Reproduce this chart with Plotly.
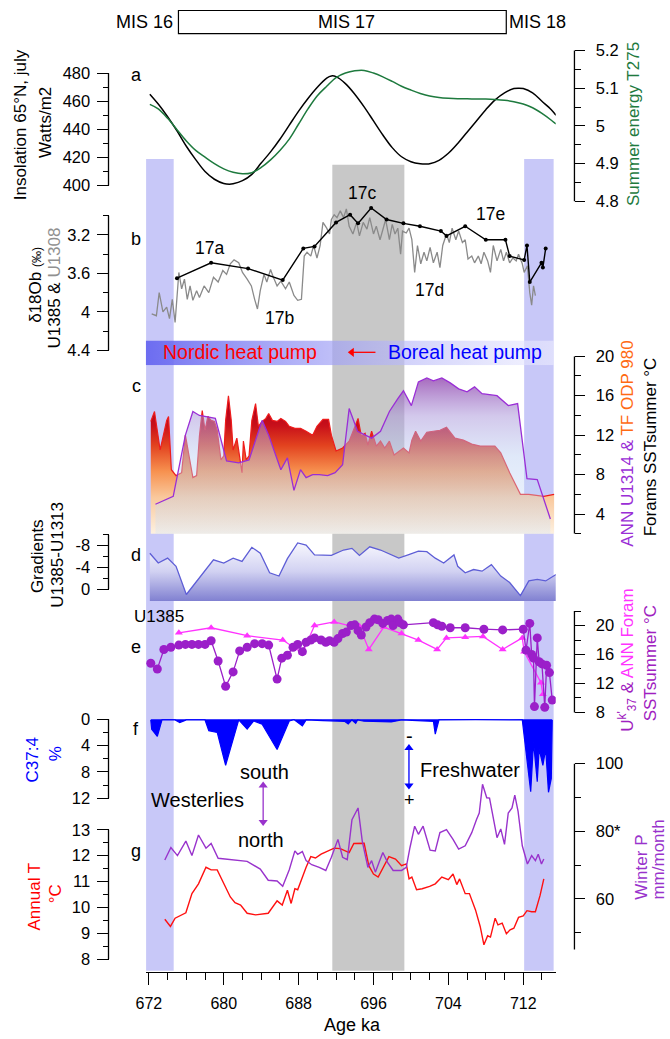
import plotly.graph_objects as go

# ---------------- data ----------------
# a) July insolation 65N (W/m2) and summer energy T275
INSOL_KA = [672.1, 673, 674, 675, 676, 677, 678, 679, 680, 680.6, 681, 682, 683, 684, 685, 686, 687, 688, 689, 690,
            691, 691.5, 692, 693, 694, 695, 696, 697, 698, 699, 700, 701, 701.7, 702, 703, 704, 705, 706, 707, 708,
            709, 710, 711, 711.5, 712, 713, 714, 715, 715.5]
INSOL = [465, 458, 449, 439, 428, 418.5, 410, 404.5, 401.5, 401, 401.3, 403.5, 408, 416, 424, 433, 443, 453, 462, 470,
         476.5, 478, 477.5, 472.5, 465, 456, 446, 436, 427, 420.5, 417, 415.5, 415.3, 415.5, 418, 423, 430, 438, 446, 454,
         461, 466, 469, 469.3, 469, 466, 460, 454, 450]
T275_KA = [672.1, 673, 674, 675, 676, 677, 678, 679, 680, 681, 682, 683, 684, 685, 686, 687, 688, 689, 690, 691,
           692, 693, 694, 695, 696, 697, 698, 699, 700, 701, 702, 703, 704, 705, 706, 707, 708, 709, 710, 711,
           712, 713, 714, 715, 715.5]
T275 = [5.057, 5.045, 5.02, 4.99, 4.96, 4.935, 4.917, 4.90, 4.886, 4.877, 4.873, 4.876, 4.89, 4.91, 4.935, 4.965, 5.005,
        5.045, 5.08, 5.105, 5.128, 5.14, 5.146, 5.147, 5.14, 5.13, 5.118, 5.105, 5.095, 5.086, 5.079, 5.075, 5.073, 5.072,
        5.072, 5.071, 5.071, 5.07, 5.068, 5.064, 5.058, 5.048, 5.033, 5.015, 5.005]

# b) d18O benthic U1385 (black, dots) and U1308 (grey)
U1385_KA = [675.0, 678.65, 682.6, 686.3, 688.5, 689.7, 692.0, 693.5, 694.35, 695.75, 697.4, 699.2, 700.96, 703.2,
            703.8, 705.8, 708.0, 710.1, 710.55, 712.1, 712.4, 712.7, 713.95, 714.1, 714.4]
U1385_D18O = [3.65, 3.49, 3.55, 3.67, 3.34, 3.32, 3.07, 2.99, 3.08, 2.92, 3.04, 3.08, 3.11, 3.16, 3.21, 3.11, 3.25,
              3.25, 3.42, 3.46, 3.31, 3.69, 3.49, 3.54, 3.34]
U1308_KA = [672.3, 672.8, 673.1, 673.5, 673.9, 674.2, 674.5, 674.8, 675.2, 675.5, 675.8, 676.1, 676.4, 676.7, 677.1,
            677.4, 677.9, 678.4, 678.9, 679.4, 679.9, 680.3, 680.7, 681.1, 681.6, 682.0, 682.5, 682.95, 683.3, 683.6,
            683.9, 684.3, 684.6, 685.0, 685.3, 685.7, 686.1, 686.6, 687.0, 687.5, 687.9, 688.3, 688.6, 688.9, 689.3,
            689.6, 689.96, 690.3, 690.6, 691.0, 691.3, 691.5, 691.8, 692.1, 692.45, 692.8, 693.1, 693.4, 693.8, 694.2,
            694.5, 694.9, 695.3, 695.6, 696.0, 696.3, 696.7, 697.0, 697.3, 697.7, 698.0, 698.3, 698.6, 698.9, 699.1,
            699.5, 699.8, 700.1, 700.4, 700.7, 701.05, 701.4, 701.7, 702.05, 702.4, 702.8, 703.1, 703.4, 703.8, 704.1,
            704.4, 704.8, 705.1, 705.5, 705.8, 706.1, 706.5, 706.8, 707.2, 707.5, 707.8, 708.2, 708.5, 708.8, 709.2,
            709.6, 709.9, 710.2, 710.55, 710.9, 711.25, 711.5, 711.9, 712.1, 712.45, 712.7, 712.9, 713.1, 713.3]
U1308_D18O = [4.02, 4.04, 3.80, 4.00, 3.95, 4.07, 3.87, 4.11, 3.59, 3.76, 3.66, 3.87, 3.73, 3.88, 3.78,
              3.85, 3.73, 3.80, 3.64, 3.69, 3.57, 3.61, 3.50, 3.46, 3.49, 3.59, 3.66, 3.73, 3.87, 3.97,
              3.78, 3.61, 3.69, 3.56, 3.64, 3.73, 3.68, 3.76, 3.69, 3.83, 3.88, 3.87, 3.42, 3.38, 3.42,
              3.31, 3.44, 3.31, 3.07, 3.13, 3.19, 3.04, 2.99, 3.02, 2.95, 3.02, 2.93, 3.11, 3.19, 3.07,
              3.21, 3.07, 3.14, 3.02, 3.19, 3.11, 3.25, 3.13, 3.04, 3.25, 3.09, 3.19, 3.13, 3.40, 3.16,
              3.18, 3.13, 3.25, 3.59, 3.31, 3.50, 3.38, 3.47, 3.33, 3.49, 3.38, 3.54, 3.31, 3.19, 3.28,
              3.13, 3.25, 3.16, 3.28, 3.25, 3.45, 3.42, 3.49, 3.42, 3.50, 3.38, 3.47, 3.59, 3.31, 3.47,
              3.35, 3.47, 3.38, 3.49, 3.44, 3.47, 3.40, 3.50, 3.59, 3.52, 3.80, 3.93, 3.73, 3.83]

# c) Forams SST summer: TF ODP 980 (red) and ANN U1314 (purple)
TF980_KA = [672.2, 672.6, 673.2, 673.9, 674.1, 674.4, 674.9, 675.5, 675.9, 676.3,
            676.7, 677.1, 677.4, 677.7, 678.0, 678.3, 678.65, 679.0, 679.3, 679.7,
            680.0, 680.2, 680.5, 680.8, 681.0, 681.4, 681.6, 681.8, 681.95, 682.1,
            682.4, 682.7, 683.0, 683.4, 683.7, 684.1, 684.5, 684.8, 685.2, 685.7,
            686.1, 686.6, 687.0, 687.6, 688.2, 688.8, 689.5, 689.96, 690.6, 691.2,
            691.5, 692.0, 692.7, 693.4, 694.0, 694.35, 694.7, 695.1, 695.4, 695.8,
            696.3, 696.75, 697.2, 697.7, 698.2, 698.7, 699.2, 699.8, 700.1, 700.5,
            701.05, 701.7, 702.4, 703.1, 703.8, 704.7, 705.6, 706.5, 707.4, 708.1,
            708.97, 709.6, 710.55, 711.7, 712.6, 714.2, 715.3]
TF980_SST = [13.4, 14.4, 10.5, 13.5, 13.9, 8.5, 7.9, 8.2, 12.0, 9.9,
             7.7, 7.9, 11.9, 14.5, 12.5, 13.9, 13.5, 13.4, 12.5, 9.5,
             9.9, 13.5, 16.0, 13.5, 10.5, 11.7, 10.4, 9.2, 8.2, 11.4,
             9.5, 9.9, 13.5, 15.2, 12.9, 13.4, 13.7, 14.2, 13.5, 13.4,
             13.7, 13.4, 12.9, 12.7, 12.7, 12.4, 12.0, 12.9, 13.6, 13.6,
             12.0, 10.4, 10.7, 11.4, 12.9, 13.7, 11.9, 12.2, 11.0, 12.4,
             10.9, 11.4, 10.7, 11.4, 10.0, 10.4, 10.7, 10.2, 11.5, 12.4,
             11.4, 12.3, 12.4, 12.5, 12.8, 11.7, 11.5, 11.1, 10.9, 10.9,
             10.9, 10.2, 8.2, 6.0, 6.0, 5.8, 6.0]
U1314_KA = [672.7, 674.6, 675.9, 676.7, 677.4, 678.4, 679.1, 680.3, 681.6, 682.7,
            684.1, 684.8, 686.1, 686.8, 687.5, 688.2, 688.8, 689.5, 690.2, 691.1,
            691.9, 692.7, 693.4, 694.3, 695.8, 696.75, 697.7, 698.6, 699.2, 700.05,
            700.8, 701.7, 702.4, 703.3, 704.2, 705.1, 706.0, 706.8, 707.6, 709.2,
            710.4, 711.4, 712.4, 713.5, 714.9]
U1314_SST = [5.0, 5.8, 12.0, 14.4, 14.0, 13.8, 13.7, 9.4, 9.2, 9.5,
             13.5, 12.0, 8.5, 9.7, 6.4, 8.5, 7.7, 8.0, 8.0, 7.9,
             8.2, 9.0, 14.7, 12.4, 11.7, 12.4, 14.4, 15.7, 16.5, 15.0,
             17.4, 17.8, 17.5, 17.8, 17.3, 16.7, 16.4, 16.9, 16.2, 16.0,
             15.0, 15.2, 7.6, 7.5, 3.5]

# d) Gradients U1385-U1313
GRAD_KA = [672.1, 673.0, 674.0, 674.9, 676.0, 677.5, 678.9, 680.0, 681.0, 681.95,
           683.0, 683.9, 684.9, 685.9, 686.8, 687.9, 688.8, 689.7, 691.5, 692.8,
           693.7, 694.5, 695.6, 696.75, 697.7, 698.7, 699.7, 700.8, 701.7, 702.6,
           703.5, 704.6, 705.0, 705.8, 706.7, 707.6, 708.6, 709.6, 710.55, 711.7,
           712.6, 713.5, 714.4, 715.5]
GRAD = [-6.6, -4.8, -5.7, -4.2, 1.0, -2.4, -5.4, -4.8, -5.7, -5.1,
        -7.7, -6.6, -3.0, -2.4, -5.6, -8.5, -8.1, -6.3, -6.2, -7.2,
        -7.5, -6.2, -7.8, -7.2, -6.4, -5.7, -6.3, -7.0, -6.9, -5.7,
        -4.8, -6.3, -4.2, -3.0, -3.6, -3.3, -4.5, -2.4, -1.2, 1.2,
        -1.5, -1.8, -1.5, -2.7]
GRAD_BASE = 2.18   # lower edge of the shaded area

# e) U1385 SST summer: Uk'37 (purple dots) and ANN Foram (magenta triangles)
UK37_KA = [672.2, 672.9, 673.6, 674.35, 675.2, 675.9, 676.6, 677.3, 678.0, 678.65, 679.4, 680.2, 681.0, 681.7,
           682.5, 683.3, 684.1, 684.8, 685.7, 686.2, 686.8, 687.4, 687.9, 688.4, 688.8, 689.3, 689.7, 690.4,
           690.9, 691.3, 691.8, 692.2, 692.7, 693.1, 693.6, 694.0, 694.35, 694.7, 695.2, 695.6, 696.1, 696.5,
           697.0, 697.5, 697.9, 698.1, 698.6, 698.8, 699.2, 702.4, 702.85, 703.3, 704.2, 705.8, 707.8, 709.8,
           712.0, 712.3, 712.7, 712.9, 713.1, 713.2, 713.5, 713.7, 714.0, 714.3, 714.5, 714.8, 715.1]
UK37_SST = [14.8, 14.0, 16.7, 17.0, 17.3, 17.4, 17.4, 17.4, 17.4, 17.9, 15.1, 11.6, 13.6, 16.5,
            17.0, 17.5, 17.5, 17.3, 12.6, 15.5, 15.9, 17.0, 17.4, 16.4, 17.7, 18.0, 18.3, 18.0,
            17.7, 17.9, 17.7, 18.2, 18.9, 19.1, 20.0, 20.1, 19.3, 18.7, 19.8, 20.4, 20.9, 20.8,
            20.3, 20.7, 20.9, 20.0, 20.9, 20.4, 20.1, 20.4, 20.1, 19.9, 19.7, 19.7, 19.5, 19.4,
            19.5, 16.6, 20.3, 16.0, 15.5, 8.8, 18.3, 15.0, 14.7, 8.7, 14.5, 13.5, 9.7]
FORAM_KA = [675.2, 678.65, 682.5, 686.3, 688.4, 689.7, 691.8, 693.7, 694.5, 695.5, 697.1,
            699.0, 700.8, 702.8, 703.8, 705.8, 707.7, 709.8, 711.9, 712.1, 713.9, 714.1]
FORAM_SST = [19.0, 19.7, 18.6, 18.0, 16.2, 20.0, 20.5, 19.9, 19.9, 16.7, 19.8,
             18.9, 18.0, 16.7, 18.3, 18.4, 18.5, 16.7, 18.3, 16.4, 12.1, 10.5]

# f) C37:4 %
C374_KA = [672.2, 672.3, 672.9, 673.4, 674.8, 675.3, 676.0, 678.0, 678.4, 679.3, 680.2, 681.6, 682.5, 683.2,
           684.1, 685.7, 687.0, 687.5, 688.4, 688.8, 690.6, 692.9, 693.3, 693.7, 694.1, 694.3, 695.0, 696.5,
           697.9, 699.0, 702.4, 702.6, 703.0, 706.9, 711.9, 712.8, 713.1, 713.5, 713.7, 714.1, 714.4, 714.7,
           715.0, 715.1]
C374 = [0.1, 1.5, 2.6, 0.1, 0.1, 0.5, 0.1, 0.1, 1.75, 2.0, 7.0, 0.1, 1.5, 0.25,
        0.75, 4.6, 0.25, 0.05, 1.0, 0.1, 0.2, 0.3, 0.7, 0.1, 0.6, 0.1, 0.3, 0.35,
        0.4, 0.1, 0.3, 2.25, 0.1, 0.05, 0.1, 11.0, 3.5, 9.5, 4.5, 7.0, 4.5, 11.1,
        9.0, 0.1]

# g) Annual T (red) and Winter P (purple)
ANNT_KA = [673.7, 674.3, 674.8, 675.95, 676.6, 677.3, 678.1, 678.65, 679.3, 680.0, 680.7,
           681.2, 681.8, 682.5, 683.4, 684.75, 685.7, 686.25, 686.8, 687.2, 687.6,
           687.9, 688.4, 688.8, 689.3, 689.8, 690.4, 691.1, 691.8, 692.45, 693.4,
           693.9, 695.0, 695.5, 696.0, 696.5, 697.0, 697.65, 698.35, 699.0, 699.5,
           699.8, 700.1, 700.6, 701.2, 702.0, 702.6, 703.3, 704.0, 704.5, 704.9,
           705.2, 705.8, 706.25, 706.9, 707.4, 707.8, 708.2, 708.5, 709.0, 709.3,
           709.75, 710.2, 710.6, 711.0, 711.5, 712.0, 712.4, 712.9, 713.3, 713.8, 714.2]
ANNT = [9.54, 9.26, 9.58, 9.79, 10.53, 10.91, 11.55, 11.45, 11.45, 10.9, 10.4,
        10.18, 10.09, 9.77, 9.71, 9.77, 10.25, 10.09, 10.66, 10.15, 10.72,
        10.68, 11.17, 11.55, 11.96, 11.91, 12.06, 12.16, 12.29, 12.27, 12.12,
        12.47, 12.48, 11.61, 11.29, 11.17, 11.52, 11.96, 11.87, 11.61, 11.68,
        11.10, 11.17, 10.68, 10.72, 10.81, 10.91, 11.17, 11.07, 11.29, 10.88,
        11.10, 10.53, 10.53, 9.90, 9.26, 8.55, 8.90, 8.85, 9.58, 9.32,
        9.39, 8.98, 9.13, 9.19, 9.61, 9.67, 9.87, 9.83, 9.83, 10.46, 11.10]
WINP_KA = [673.7, 674.35, 675.05, 675.95, 676.6, 677.3, 678.1, 678.65, 679.4, 681.1,
           682.5, 683.9, 684.75, 685.7, 686.3, 687.0, 687.6, 687.9, 688.4, 688.8,
           689.4, 690.2, 690.9, 691.5, 692.2, 692.7, 693.2, 693.7, 694.35, 694.8,
           695.4, 695.8, 696.2, 696.6, 697.0, 697.5, 698.1, 699.0, 699.5, 699.9,
           700.4, 700.8, 701.3, 702.05, 702.6, 703.1, 703.8, 704.5, 705.1, 705.8,
           706.5, 707.0, 707.3, 707.65, 708.1, 708.4, 708.85, 709.2, 709.6, 710.0,
           710.4, 710.8, 711.1, 711.45, 711.9, 712.45, 712.9, 713.3, 713.6, 713.95, 714.2]
WINP = [71.5, 75.2, 72.8, 77.1, 72.8, 78.9, 75.0, 76.4, 72.0, 71.5,
        71.1, 68.8, 65.5, 65.3, 63.7, 68.6, 74.2, 73.2, 74.0, 71.3,
        70.1, 69.3, 68.4, 72.3, 77.6, 72.3, 71.6, 83.4, 86.9, 77.1,
        69.3, 71.3, 67.9, 70.8, 73.7, 70.8, 68.4, 68.4, 69.3, 75.2,
        81.5, 79.1, 81.5, 74.4, 74.2, 79.6, 80.5, 77.6, 74.7, 75.7,
        79.6, 83.4, 85.4, 93.9, 89.9, 89.8, 83.0, 78.1, 80.7, 76.1,
        85.4, 86.9, 90.7, 85.9, 75.7, 70.3, 72.8, 71.3, 73.2, 70.3, 71.8]

# shaded intervals (ka)
BLUE_BANDS = [(671.7, 674.65), (712.1, 715.25)]
GREY_BAND = (691.6, 699.3)
X_TICKS = [672, 680, 688, 696, 704, 712]

# ---------------- layout helpers ----------------
W, H = 670, 1039
FONT = "Liberation Sans, Arial, sans-serif"
LEFT_POS = 100 / W
RIGHT_POS = 573 / W
TITLE_SIZE = 17


def fx(p):
    return p / W


def fy(p):
    return 1 - p / H


def span(s, color, size=TITLE_SIZE):
    return f"<span style='color:{color};font-size:{size}px'>{s}</span>"


X_RANGE = [672 + (138 - 141) / 9.5, 672 + (554 - 141) / 9.5]

fig = go.Figure()

AXES = {
    'y':  dict(cal=(480, 65, 400, 179), dom=(35, 200), side='left',
               major=[400, 420, 440, 460, 480], minor=[410, 430, 450, 470], line=(400, 480)),
    'y2': dict(cal=(5.2, 42, 4.8, 195), dom=(35, 200), side='right',
               major=[4.8, 4.9, 5.0, 5.1, 5.2], text=['4.8', '4.9', '5', '5.1', '5.2'],
               minor=[4.85, 4.95, 5.05, 5.15], line=(4.8, 5.2)),
    'y3': dict(cal=(3.2, 229, 4.0, 307), dom=(190, 350), side='left',
               major=[3.2, 3.6, 4.0, 4.4], text=['3.2', '3.6', '4', '4.4'],
               minor=[3.0, 3.4, 3.8, 4.2], line=(3.0, 4.4)),
    'y4': dict(cal=(20, 352, 4, 512), dom=(352, 532), side='right',
               major=[4, 8, 12, 16, 20], minor=[2, 6, 10, 14, 18], line=(2, 20)),
    'y5': dict(cal=(0, 588, -4, 566), dom=(528, 600), side='left',
               major=[-8, -4, 0], minor=[-10, -6, -2], line=(-10, 0)),
    'y6': dict(cal=(20, 625, 8, 713), dom=(600, 725), side='right',
               major=[8, 12, 16, 20], minor=[10, 14, 18, 22], line=(8, 22)),
    'y7': dict(cal=(0, 720, 12, 800), dom=(712, 805), side='left',
               major=[0, 4, 8, 12], minor=[2, 6, 10], line=(0, 12)),
    'y8': dict(cal=(13, 832, 8, 963), dom=(815, 975), side='left',
               major=[8, 9, 10, 11, 12, 13], minor=[8.5, 9.5, 10.5, 11.5, 12.5], line=(8, 13)),
    'y9': dict(cal=(100, 765, 60, 902), dom=(760, 975), side='right',
               major=[60, 80, 100], text=['60', '80*', '100'], minor=[50, 70, 90], line=(45, 100)),
}

layout_axes = {}
shapes = []
for key, a in AXES.items():
    v1, p1, v2, p2 = a['cal']
    ptop, pbot = a['dom']
    s = (v2 - v1) / (p2 - p1)
    rng = [v1 + (pbot - p1) * s, v1 + (ptop - p1) * s]
    left = a['side'] == 'left'
    pos = LEFT_POS if left else RIGHT_POS
    name = 'yaxis' + key[1:]
    layout_axes[name] = dict(
        domain=[fy(pbot), fy(ptop)], range=rng, anchor='free', position=pos, side=a['side'],
        showline=False, showgrid=False, zeroline=False, ticks='outside',
        ticklen=12 if left else 10, tickwidth=1.3, tickcolor='black',
        tickmode='array', tickvals=a['major'],
        ticktext=a.get('text', [str(v) for v in a['major']]),
        tickfont=dict(family=FONT, size=16.5, color='black'), ticklabelstandoff=3 if left else 7,
        minor=dict(tickmode='array', tickvals=a['minor'], ticks='outside', ticklen=6,
                   tickwidth=1.3, tickcolor='black'),
        fixedrange=True)
    shapes.append(dict(type='line', xref='paper', yref=key, x0=pos, x1=pos,
                       y0=a['line'][0], y1=a['line'][1], line=dict(color='black', width=1.3)))

# header bar axis (hidden)
layout_axes['yaxis10'] = dict(domain=[fy(361), fy(336)], range=[0, 1], anchor='free', position=LEFT_POS,
                              visible=False, fixedrange=True)
# full-page overlay axes (pixel units) for the small arrows
layout_axes['yaxis11'] = dict(domain=[0, 1], range=[H, 0], anchor='x2', visible=False, fixedrange=True)

# background bands
for x0, x1 in BLUE_BANDS:
    shapes.append(dict(type='rect', xref='x', yref='paper', x0=x0, x1=x1, y0=fy(975), y1=fy(152),
                       fillcolor='#c8c8f8', line=dict(width=0), layer='below'))
shapes.append(dict(type='rect', xref='x', yref='paper', x0=GREY_BAND[0], x1=GREY_BAND[1], y0=fy(975), y1=fy(158),
                   fillcolor='#c8c8c8', line=dict(width=0), layer='below'))
# MIS box
shapes.append(dict(type='rect', xref='paper', yref='paper', x0=fx(171), x1=fx(503.8), y0=fy(25), y1=fy(1.5),
                   fillcolor='rgba(0,0,0,0)', line=dict(color='black', width=1.2)))

# ---------------- traces ----------------
# header gradient bar
BAR_X = [671.55, 715.25]
fig.add_trace(go.Scatter(x=[BAR_X[0], BAR_X[1], BAR_X[1], BAR_X[0], BAR_X[0]], y=[0, 0, 1, 1, 0],
                         mode='lines', line=dict(width=0), fill='toself',
                         fillgradient=dict(type='horizontal', start=BAR_X[0], stop=BAR_X[1],
                                           colorscale=[[0, 'rgba(100,100,240,0.92)'],
                                                       [0.45, 'rgba(160,160,245,0.68)'],
                                                       [1, 'rgba(240,240,255,0.6)']]),
                         yaxis='y10', hoverinfo='skip'))

# a
fig.add_trace(go.Scatter(x=INSOL_KA, y=INSOL, mode='lines', line=dict(color='black', width=1.5, shape='spline'),
                         yaxis='y'))
fig.add_trace(go.Scatter(x=T275_KA, y=T275, mode='lines', line=dict(color='#1e7a3e', width=1.5, shape='spline'),
                         yaxis='y2'))
# b
fig.add_trace(go.Scatter(x=U1308_KA, y=U1308_D18O, mode='lines', line=dict(color='#8a8a8a', width=1.3),
                         yaxis='y3'))
fig.add_trace(go.Scatter(x=U1385_KA, y=U1385_D18O, mode='lines+markers', line=dict(color='black', width=1.4),
                         marker=dict(color='black', size=4), yaxis='y3'))
# c
fig.add_trace(go.Scatter(x=TF980_KA, y=TF980_SST, mode='lines', line=dict(color='#ee1c1c', width=1.2),
                         fill='tozeroy',
                         fillgradient=dict(type='vertical', start=2, stop=15,
                                           colorscale=[[0, '#fdf4e6'], [0.3, '#f9c89c'], [0.5, '#f7914f'],
                                                       [0.7, '#e2421f'], [0.85, '#c8101a'], [1, '#b0001a']]),
                         yaxis='y4'))
fig.add_trace(go.Scatter(x=U1314_KA, y=U1314_SST, mode='lines', line=dict(color='#9a2ed6', width=1.3),
                         fill='tozeroy',
                         fillgradient=dict(type='vertical', start=2, stop=18,
                                           colorscale=[[0, 'rgba(205,225,250,0.30)'],
                                                       [0.5, 'rgba(185,205,242,0.45)'],
                                                       [0.75, 'rgba(170,150,218,0.52)'],
                                                       [1, 'rgba(135,50,165,0.75)']]),
                         yaxis='y4'))
# d
fig.add_trace(go.Scatter(x=[GRAD_KA[0], GRAD_KA[-1]], y=[GRAD_BASE, GRAD_BASE], mode='lines',
                         line=dict(width=0), yaxis='y5', hoverinfo='skip'))
fig.add_trace(go.Scatter(x=GRAD_KA, y=GRAD, mode='lines', line=dict(color='#5e5ed6', width=1.3),
                         fill='tonexty',
                         fillgradient=dict(type='vertical', start=-9, stop=GRAD_BASE,
                                           colorscale=[[0, '#fbfbff'], [0.5, '#d2d2f2'], [1, '#7e7ed0']]),
                         yaxis='y5'))
# e
fig.add_trace(go.Scatter(x=FORAM_KA, y=FORAM_SST, mode='lines+markers', line=dict(color='#ff33ff', width=1.3),
                         marker=dict(symbol='triangle-up', size=7, color='#ff33ff'), yaxis='y6'))
fig.add_trace(go.Scatter(x=UK37_KA, y=UK37_SST, mode='lines+markers', line=dict(color='#9b1fc9', width=1.3),
                         marker=dict(size=9, color='#9b1fc9'), yaxis='y6'))
# f
fig.add_trace(go.Scatter(x=C374_KA, y=C374, mode='lines', line=dict(color='#0000ff', width=1.2),
                         fill='tozeroy', fillcolor='#0000ff', yaxis='y7'))
# g
fig.add_trace(go.Scatter(x=WINP_KA, y=WINP, mode='lines', line=dict(color='#9933cc', width=1.4), yaxis='y9'))
fig.add_trace(go.Scatter(x=ANNT_KA, y=ANNT, mode='lines', line=dict(color='#ff1010', width=1.4), yaxis='y8'))

# small decorative arrows, in page pixels on the overlay axes
ARROWS = [  # (x0, y0, x1, y1, symbols, color)
    (347, 348, 371, 348, ['triangle-left', None], '#ff0000'),
    (257, 787, 257, 824, ['triangle-up', 'triangle-down'], '#9933cc'),
    (405, 749, 405, 787, ['triangle-up', 'triangle-down'], '#0000ff'),
]
for x0, y0, x1, y1, syms, col in ARROWS:
    fig.add_trace(go.Scatter(x=[x0, x1], y=[y0, y1], mode='lines', line=dict(color=col, width=1.3),
                             xaxis='x2', yaxis='y11', hoverinfo='skip'))
    mx = [p for p, s in zip([x0, x1], syms) if s]
    my = [p for p, s in zip([y0, y1], syms) if s]
    fig.add_trace(go.Scatter(x=mx, y=my, mode='markers', xaxis='x2', yaxis='y11', hoverinfo='skip',
                             marker=dict(symbol=[s for s in syms if s], size=8, color=col, line=dict(width=0))))

# ---------------- annotations ----------------
ann = []


def txt(s, x, y, size=18, color='black', angle=0, xanchor='center'):
    ann.append(dict(text=s, x=fx(x), y=fy(y), xref='paper', yref='paper', showarrow=False,
                    xanchor=xanchor, yanchor='middle', textangle=angle,
                    font=dict(family=FONT, size=size, color=color)))


# MIS
txt('MIS 16', 167, 13, 18, xanchor='right')
txt('MIS 17', 341.8, 13, 18)
txt('MIS 18', 505, 13, 18, xanchor='left')
# panel letters
for letter, yy in [('a', 67), ('b', 233), ('c', 382), ('d', 553), ('e', 647), ('f', 730), ('g', 853)]:
    txt(letter, 128, yy, 18)
txt('U1385', 151, 616, 17)
# MIS substages
txt('17a', 203, 242, 17.5)
txt('17b', 274, 313, 17.5)
txt('17c', 357, 187, 17.5)
txt('17d', 426, 285, 17.5)
txt('17e', 488, 208, 17.5)
# heat pump bar
txt('Nordic heat pump', 233, 348, 19.5, '#ff0000')
txt('Boreal heat pump', 462, 348, 19.5, '#0000ff')
# westerlies / freshwater
txt('south', 258, 773, 20)
txt('north', 254.5, 842, 20)
txt('Westerlies', 190.4, 802, 20)
txt('Freshwater', 467, 771, 20)
txt('-', 406, 737, 20)
txt('+', 406, 802, 18)
# axis titles (left)
txt('Insolation 65°N, july', 11, 117, TITLE_SIZE, angle=-90)
txt('Watts/m2', 36, 115, TITLE_SIZE, angle=-90)
txt("δ18Ob " + span('(‰)', 'black', 12), 26, 280, TITLE_SIZE, angle=-90)
txt("U1385 & " + span('U1308', '#909090'), 45, 283, TITLE_SIZE, angle=-90)
txt('Gradients', 28, 555, TITLE_SIZE, angle=-90)
txt('U1385-U1313', 48, 553, TITLE_SIZE, angle=-90)
txt('C37:4', 23, 761, TITLE_SIZE, '#0000ff', angle=-90)
txt('%', 47, 755, TITLE_SIZE, '#0000ff', angle=-90)
txt('Annual T', 25, 900, TITLE_SIZE, '#ff0000', angle=-90)
txt('°C', 47, 897, TITLE_SIZE, '#ff0000', angle=-90)
# axis titles (right)
txt('Summer energy T275', 633, 117, TITLE_SIZE, '#1e7a3e', angle=-90)
txt("ANN U1314 & " + span('TF ODP 980', '#ff6a13'), 626, 441, TITLE_SIZE, '#9a2ed6', angle=-90)
txt('Forams SSTsummer °C', 650, 444, TITLE_SIZE, angle=-90)
txt("U<sup>k'</sup><sub>37</sub> & " + span('ANN Foram', '#ff33ff'), 626, 660, TITLE_SIZE, '#a020c0',
    angle=-90)
txt('SSTsummer °C', 650, 663, TITLE_SIZE, '#a020c0', angle=-90)
txt('Winter P', 641, 870, TITLE_SIZE, '#9933cc', angle=-90)
txt('mm/month', 658, 862, TITLE_SIZE, '#9933cc', angle=-90)
# x title
txt('Age ka', 348, 1030, 18)

fig.update_layout(
    width=W, height=H, margin=dict(l=0, r=0, t=0, b=0), showlegend=False,
    paper_bgcolor='white', plot_bgcolor='rgba(0,0,0,0)',
    xaxis=dict(domain=[fx(138), fx(554)], range=X_RANGE, anchor='free', position=fy(976),
               showline=True, linecolor='black', linewidth=1.3, showgrid=False, zeroline=False,
               ticks='outside', ticklen=12, tickwidth=1.3, tickcolor='black',
               tickmode='array', tickvals=X_TICKS, ticktext=[str(v) for v in X_TICKS],
               tickfont=dict(family=FONT, size=16, color='black'), ticklabelstandoff=5,
               minor=dict(dtick=2, tick0=672, ticks='outside', ticklen=7, tickwidth=1.3, tickcolor='black'),
               fixedrange=True),
    xaxis2=dict(domain=[0, 1], range=[0, W], anchor='y11', visible=False, fixedrange=True),
    shapes=shapes, annotations=ann, **layout_axes)

fig.write_html("out.html")
